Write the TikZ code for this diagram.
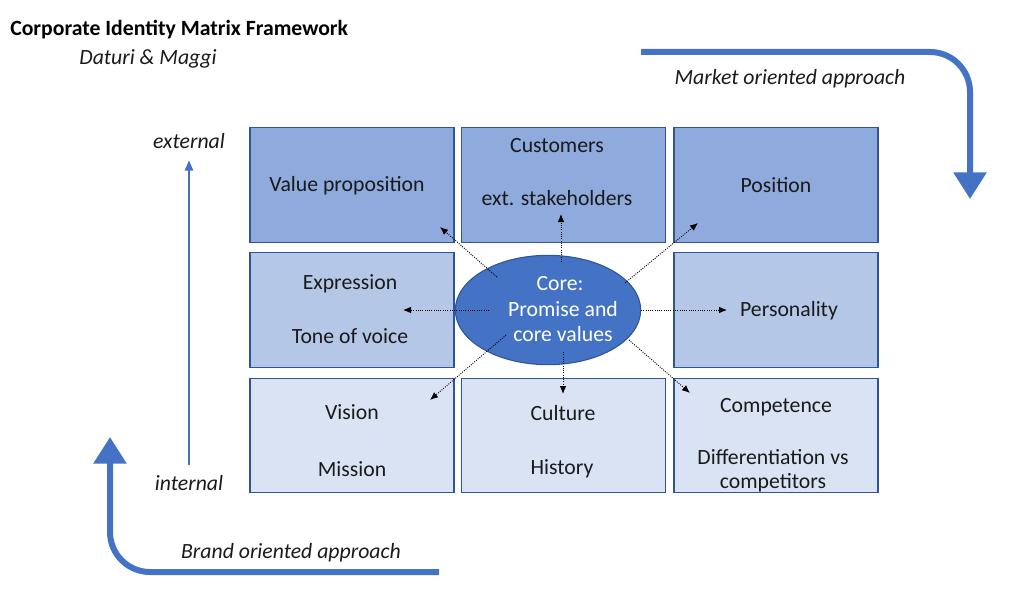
\documentclass[tikz,border=0pt]{standalone}
\usepackage{fontspec}
\setmainfont{Carlito}
\usetikzlibrary{arrows.meta,shapes.geometric}
\definecolor{rowa}{HTML}{8FAADC}
\definecolor{rowb}{HTML}{B4C7E7}
\definecolor{rowc}{HTML}{DAE3F3}
\definecolor{edge}{HTML}{2F5597}
\definecolor{accent}{HTML}{4472C4}
\definecolor{ink}{HTML}{1A1A1A}
\begin{document}
\begin{tikzpicture}[x=0.75pt,y=-0.75pt,
  cell/.style={draw=edge,line width=0.8pt,minimum width=153pt,minimum height=86pt,inner sep=0pt},
  txt/.style={font=\fontsize{16.3}{19}\selectfont,text=ink,inner sep=0pt,yshift=-1.5pt},
  itxt/.style={font=\fontsize{16.3}{19}\selectfont\itshape,text=ink,inner sep=0pt,yshift=-1.5pt},
  dotarrow/.style={densely dotted,line width=0.7pt,-{Latex[length=6pt,width=5pt]}},
  bigarrow/.style={draw=accent,line width=4.5pt,rounded corners=30pt,-{Triangle[length=20pt,width=24pt]}}
]
\useasboundingbox (0,0) rectangle (1030,606);
% boxes
\node[cell,fill=rowa] (b11) at (352,185) {};
\node[cell,fill=rowa] (b12) at (563.5,185) {};
\node[cell,fill=rowa] (b13) at (776,185) {};
\node[cell,fill=rowb] (b21) at (352,310) {};
\node[cell,fill=rowb] (b23) at (776,310) {};
\node[cell,fill=rowc] (b31) at (352,435.5) {};
\node[cell,fill=rowc] (b32) at (563.5,435.5) {};
\node[cell,fill=rowc] (b33) at (776,435.5) {};
% core
\node[ellipse,draw=edge,line width=0.8pt,fill=accent,minimum width=139pt,minimum height=82pt,inner sep=0pt] (core) at (548,310) {};
\node[txt,text=white] (c1) at (560,282) {Core:};
\node[txt,text=white] (c2) at (563,307) {Promise and};
\node[txt,text=white] (c3) at (563,332) {core values};
% texts
\node[txt] (t11) at (347,184) {Value proposition};
\node[txt] (t12a) at (557,144) {Customers};
\node[txt] (t12b) at (557,196) {ext. stakeholders};
\node[txt] (t13) at (776,183) {Position};
\node[txt] (t21a) at (350,282) {Expression};
\node[txt] (t21b) at (350,334) {Tone of voice};
\node[txt] (t23) at (789,309) {Personality};
\node[txt] (t31a) at (352,410) {Vision};
\node[txt] (t31b) at (352,467) {Mission};
\node[txt] (t32a) at (563,411) {Culture};
\node[txt] (t32b) at (562,467) {History};
\node[txt] (t33a) at (776,405) {Competence};
\node[txt] (t33b) at (773,455) {Differentiation vs};
\node[txt] (t33c) at (773,481) {competitors};
% dotted arrows
\coordinate (s1) at (497,277); \coordinate (e1) at (440,227);
\coordinate (s2) at (561,262); \coordinate (e2) at (561,214);
\coordinate (s3) at (625,283); \coordinate (e3) at (698,223);
\coordinate (s4) at (489,310); \coordinate (e4) at (403,310);
\coordinate (s5) at (641,310); \coordinate (e5) at (727,310);
\coordinate (s6) at (506,335); \coordinate (e6) at (430,400);
\coordinate (s7) at (563,352); \coordinate (e7) at (563,394);
\coordinate (s8) at (629,340); \coordinate (e8) at (690,393);
\foreach \i in {1,...,8} \draw[dotarrow] (s\i) -- (e\i);
% title
\node[font=\fontsize{16.3}{19}\selectfont\bfseries,text=black,inner sep=0pt,anchor=west,yshift=-1.5pt] (title) at (10,28) {Corporate Identity Matrix Framework};
\node[itxt] (auth) at (148,57) {Daturi \& Maggi};
% internal/external axis
\node[itxt] (ext) at (189,139) {external};
\node[itxt] (int) at (189,481) {internal};
\coordinate (ax0) at (189,465); \coordinate (ax1) at (189,160);
\draw[accent,line width=2pt,-{Triangle[length=8pt,width=6pt]}] (ax0) -- (ax1);
% market arrow
\coordinate (m0) at (641,52); \coordinate (mc) at (970,52); \coordinate (m1) at (970,199);
\draw[bigarrow] (m0) -- (mc) -- (m1);
\node[itxt] (mtxt) at (790,77) {Market oriented approach};
% brand arrow
\coordinate (n0) at (439,572); \coordinate (nc) at (110,572); \coordinate (n1) at (110,437);
\draw[bigarrow] (n0) -- (nc) -- (n1);
\node[itxt] (ntxt) at (291,551) {Brand oriented approach};
\end{tikzpicture}
\end{document}
